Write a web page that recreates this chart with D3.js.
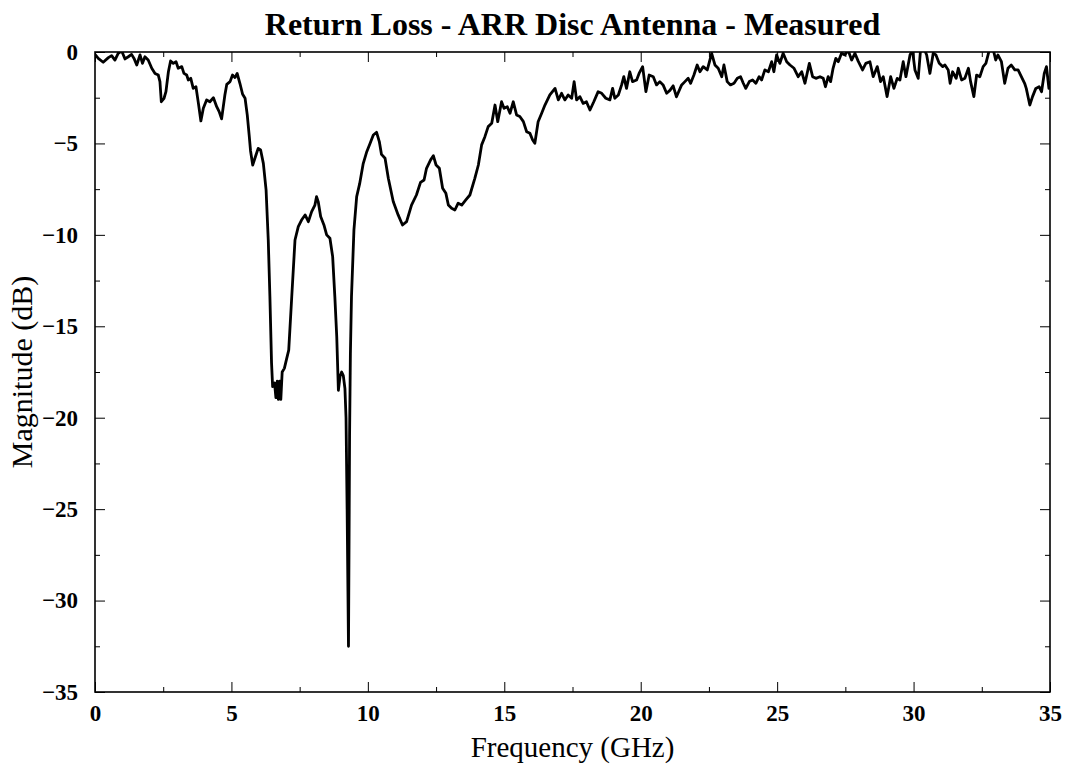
<!DOCTYPE html>
<html>
<head>
<meta charset="utf-8">
<script src="https://cdnjs.cloudflare.com/ajax/libs/d3/7.8.5/d3.min.js"></script>
<style>
    body { margin: 0; background: white; }
    text { font-family: "Liberation Serif", "Times New Roman", serif; }
</style>
</head>
<body>
<div id="chart"></div>
<script>

// measured S11
var freqGHz = [
    0, 0.12, 0.30, 0.49, 0.61, 0.73, 0.85, 0.98, 1.10, 1.22, 1.34, 1.43, 1.53, 1.65, 1.74, 1.83, 1.95,
    2.08, 2.20, 2.32, 2.38, 2.43, 2.53, 2.60, 2.69, 2.77, 2.87, 2.97, 3.05, 3.18, 3.26, 3.36, 3.42,
    3.51, 3.60, 3.70, 3.79, 3.88, 3.97, 4.09, 4.21, 4.34, 4.46, 4.55, 4.64, 4.76, 4.83, 4.95, 5.04,
    5.13, 5.21, 5.31, 5.41, 5.50, 5.58, 5.65, 5.70, 5.78, 5.90, 5.98, 6.07, 6.17, 6.27, 6.35, 6.41,
    6.47, 6.51, 6.58, 6.63, 6.68, 6.72, 6.77, 6.81, 6.86, 6.94, 7.02, 7.10, 7.21, 7.33, 7.45, 7.57,
    7.70, 7.82, 7.94, 8.06, 8.12, 8.18, 8.27, 8.39, 8.49, 8.61, 8.71, 8.79, 8.86, 8.92, 8.98, 9.04,
    9.10, 9.16, 9.20, 9.24, 9.27, 9.29, 9.31, 9.33, 9.36, 9.40, 9.49, 9.59, 9.70, 9.83, 9.96, 10.08,
    10.20, 10.32, 10.42, 10.50, 10.63, 10.75, 10.93, 11.11, 11.27, 11.42, 11.60, 11.78, 11.93, 12.06,
    12.15, 12.30, 12.40, 12.50, 12.62, 12.74, 12.86, 12.95, 13.07, 13.19, 13.31, 13.44, 13.59, 13.74,
    13.92, 14.05, 14.17, 14.29, 14.41, 14.54, 14.66, 14.76, 14.90, 14.99, 15.11, 15.21, 15.33, 15.45,
    15.57, 15.70, 15.82, 15.94, 16.04, 16.12, 16.24, 16.37, 16.49, 16.67, 16.86, 16.98, 17.10, 17.22,
    17.34, 17.47, 17.56, 17.65, 17.77, 17.89, 18.01, 18.14, 18.28, 18.44, 18.57, 18.72, 18.87, 18.97,
    19.05, 19.18, 19.30, 19.38, 19.48, 19.60, 19.70, 19.85, 19.94, 20.07, 20.19, 20.31, 20.46, 20.58,
    20.70, 20.82, 20.95, 21.07, 21.19, 21.31, 21.50, 21.62, 21.74, 21.83, 21.95, 22.07, 22.17, 22.29,
    22.44, 22.60, 22.72, 22.84, 22.97, 23.05, 23.17, 23.29, 23.42, 23.54, 23.66, 23.76, 23.85, 23.98,
    24.10, 24.22, 24.34, 24.43, 24.55, 24.68, 24.80, 24.88, 24.98, 25.10, 25.22, 25.35, 25.47, 25.62,
    25.77, 25.90, 26.02, 26.18, 26.30, 26.42, 26.57, 26.69, 26.77, 26.87, 26.96, 27.05, 27.15, 27.24,
    27.36, 27.48, 27.60, 27.73, 27.85, 27.97, 28.13, 28.25, 28.40, 28.52, 28.67, 28.79, 28.89, 29.03,
    29.16, 29.28, 29.40, 29.50, 29.62, 29.72, 29.87, 29.96, 30.05, 30.17, 30.26, 30.38, 30.48, 30.60,
    30.72, 30.82, 30.94, 31.07, 31.15, 31.27, 31.34, 31.43, 31.56, 31.64, 31.76, 31.88, 32.01, 32.09,
    32.21, 32.31, 32.43, 32.55, 32.65, 32.73, 32.79, 32.91, 33.01, 33.09, 33.22, 33.34, 33.46, 33.58,
    33.71, 33.83, 33.95, 34.07, 34.13, 34.26, 34.36, 34.48, 34.60, 34.69, 34.79, 34.87, 34.96, 35.0
];

var magDB = [
    -0.13, -0.35, -0.56, -0.31, -0.20, -0.44, -0.07, 0.05, -0.38, -0.26, -0.13, -0.35, -0.71, -0.16, -0.62, -0.26, -0.44,
    -0.89, -1.17, -1.26, -1.62, -2.72, -2.53, -2.17, -1.08, -0.49, -0.62, -0.53, -0.89, -0.80, -1.17, -1.26, -1.53,
    -1.44, -1.99, -1.90, -2.81, -3.77, -3.08, -2.62, -2.72, -2.50, -2.99, -3.26, -3.66, -2.35, -1.77, -1.62, -1.26,
    -1.40, -1.17, -1.71, -2.31, -2.53, -3.44, -4.54, -5.40, -6.18, -5.63, -5.27, -5.36, -6.09, -7.54, -10.28, -13.38,
    -17.0, -18.3, -18.1, -18.9, -18.0, -19.0, -18.0, -19.0, -17.5, -17.3, -16.8, -16.3, -13.4, -10.28, -9.55, -9.19,
    -8.91, -9.28, -8.73, -8.37, -7.91, -8.18, -9.00, -9.46, -10.0, -10.19, -11.19, -13.38, -15.57, -18.5, -17.75, -17.5,
    -17.7, -18.4, -20.0, -25.0, -29.5, -32.5, -27.0, -21.0, -16.5, -13.38, -9.73, -7.91, -7.20, -6.10, -5.45, -5.00,
    -4.54, -4.39, -4.90, -5.60, -5.81, -6.90, -8.18, -8.91, -9.46, -9.28, -8.37, -7.82, -7.13, -7.00,
    -6.36, -5.90, -5.67, -6.18, -6.36, -7.45, -7.73, -8.37, -8.55, -8.64, -8.27, -8.37, -8.09, -7.82,
    -6.91, -6.18, -5.08, -4.63, -4.08, -3.90, -2.90, -3.81, -2.72, -3.08, -2.99, -3.35, -2.72, -3.44,
    -3.53, -3.81, -4.36, -4.45, -4.81, -4.99, -3.81, -3.35, -2.90, -2.35, -1.99, -2.62, -2.26, -2.62,
    -2.35, -2.53, -1.62, -2.62, -2.44, -2.81, -2.72, -3.17, -2.72, -2.17, -2.26, -2.53, -2.62, -1.99,
    -2.53, -2.35, -1.80, -1.35, -1.99, -1.08, -1.62, -1.53, -1.17, -0.80, -2.17, -1.26, -1.35, -1.80,
    -1.62, -1.80, -2.26, -2.10, -1.85, -2.45, -1.80, -1.62, -1.44, -1.71, -1.26, -0.71, -1.08, -0.80,
    -0.98, -0.07, -0.71, -0.89, -1.35, -0.71, -1.62, -1.80, -1.71, -1.44, -1.35, -1.71, -1.99, -1.62,
    -1.53, -1.71, -1.35, -1.53, -0.98, -1.08, -0.53, -1.08, -0.16, -0.62, -0.07, -0.53, -0.71, -0.89,
    -1.35, -1.08, -1.71, -0.62, -1.35, -1.44, -1.35, -1.44, -1.90, -1.35, -1.62, -0.89, -0.35, -0.53,
    -0.07, -0.16, 0.10, -0.44, -0.07, -0.50, -0.98, -0.62, -0.53, -1.35, -0.80, -1.62, -1.35, -2.44,
    -1.35, -1.99, -1.44, -1.53, -0.53, -1.35, -0.16, 0.10, -0.98, -1.44, 0.20, 0.20, -0.16, -1.17,
    -0.07, -0.16, -0.62, -0.80, -0.71, -0.98, -1.71, -1.08, -1.44, -0.89, -1.53, -1.44, -0.89, -1.62,
    -2.44, -1.26, -1.35, -0.80, -0.62, -0.16, 0.20, 0.20, -0.44, -0.16, -0.53, -1.71, -0.89, -0.71,
    -0.98, -0.98, -1.35, -1.71, -1.99, -2.90, -2.44, -1.99, -1.90, -2.17, -1.17, -0.80, -1.99, -1.60
];

var xTicks = [0, 5, 10, 15, 20, 25, 30, 35];
var yTicks = [0, -5, -10, -15, -20, -25, -30, -35];

var chartTitle = "Return Loss - ARR Disc Antenna - Measured";
var xLabel = "Frequency (GHz)";
var yLabel = "Magnitude (dB)";


var width = 1066,
    height = 770;
var margin = { top: 52, right: 16, bottom: 78, left: 95 };
var plotW = width - margin.left - margin.right,
    plotH = height - margin.top - margin.bottom;

var dataSet = freqGHz.map(function (f, i) {
    return { f: f, db: magDB[i] };
});

var xScale = d3.scaleLinear().domain([0, 35]).range([0, plotW]);
var yScale = d3.scaleLinear().domain([-35, 0]).range([plotH, 0]);

var svg = d3.select("#chart").append("svg")
    .attr("width", width)
    .attr("height", height)
    .style("background", "white");

var plot = svg.append("g")
    .attr("transform", "translate(" + margin.left + "," + margin.top + ")");

svg.append("defs").append("clipPath")
    .attr("id", "plotClip")
    .append("rect")
    .attr("width", plotW)
    .attr("height", plotH);

// inward ticks on all four sides, minor every 2.5
var minorX = d3.range(2.5, 35, 5);
var minorY = d3.range(-2.5, -35, -5);

function addTicks(g, axis) {
    g.call(axis);
    g.select(".domain").remove();
    g.selectAll(".tick line").attr("stroke", "black").attr("stroke-width", 1);
}

var tickFont = function (sel) {
    sel.selectAll("text")
        .style("font-family", "'Liberation Serif', serif")
        .style("font-weight", "bold")
        .style("font-size", "23px")
        .attr("fill", "black");
};

// bottom
plot.append("g")
    .attr("transform", "translate(0," + plotH + ")")
    .call(addTicks, d3.axisBottom(xScale).tickValues(xTicks).tickSize(-10).tickPadding(13).tickFormat(d3.format("d")))
    .call(tickFont);
plot.append("g")
    .attr("transform", "translate(0," + plotH + ")")
    .call(addTicks, d3.axisBottom(xScale).tickValues(minorX).tickSize(-5).tickFormat(""));

// top
plot.append("g")
    .call(addTicks, d3.axisTop(xScale).tickValues(xTicks).tickSize(-10).tickFormat(""));
plot.append("g")
    .call(addTicks, d3.axisTop(xScale).tickValues(minorX).tickSize(-5).tickFormat(""));

// left
plot.append("g")
    .call(addTicks, d3.axisLeft(yScale).tickValues(yTicks).tickSize(-10).tickPadding(17).tickFormat(d3.format("d")))
    .call(tickFont);
plot.append("g")
    .call(addTicks, d3.axisLeft(yScale).tickValues(minorY).tickSize(-5).tickFormat(""));

// right
plot.append("g")
    .attr("transform", "translate(" + plotW + ",0)")
    .call(addTicks, d3.axisRight(yScale).tickValues(yTicks).tickSize(-10).tickFormat(""));
plot.append("g")
    .attr("transform", "translate(" + plotW + ",0)")
    .call(addTicks, d3.axisRight(yScale).tickValues(minorY).tickSize(-5).tickFormat(""));

var line = d3.line()
    .x(function (d) { return xScale(d.f); })
    .y(function (d) { return yScale(d.db); })
    .curve(d3.curveLinear);

plot.append("path")
    .datum(dataSet)
    .attr("clip-path", "url(#plotClip)")
    .attr("d", line)
    .attr("fill", "none")
    .attr("stroke", "black")
    .attr("stroke-width", 2.8)
    .attr("stroke-linejoin", "round");

// frame
plot.append("rect")
    .attr("width", plotW)
    .attr("height", plotH)
    .attr("fill", "none")
    .attr("stroke", "black")
    .attr("stroke-width", 1.6);

svg.append("text")
    .attr("x", margin.left + plotW / 2)
    .attr("y", 35)
    .attr("text-anchor", "middle")
    .style("font-weight", "bold")
    .style("font-size", "32px")
    .text(chartTitle);

svg.append("text")
    .attr("x", margin.left + plotW / 2)
    .attr("y", 757)
    .attr("text-anchor", "middle")
    .style("font-size", "29px")
    .text(xLabel);

svg.append("text")
    .attr("transform", "translate(32," + (margin.top + plotH / 2) + ") rotate(-90)")
    .attr("text-anchor", "middle")
    .style("font-size", "30px")
    .text(yLabel);

</script>
</body>
</html>
